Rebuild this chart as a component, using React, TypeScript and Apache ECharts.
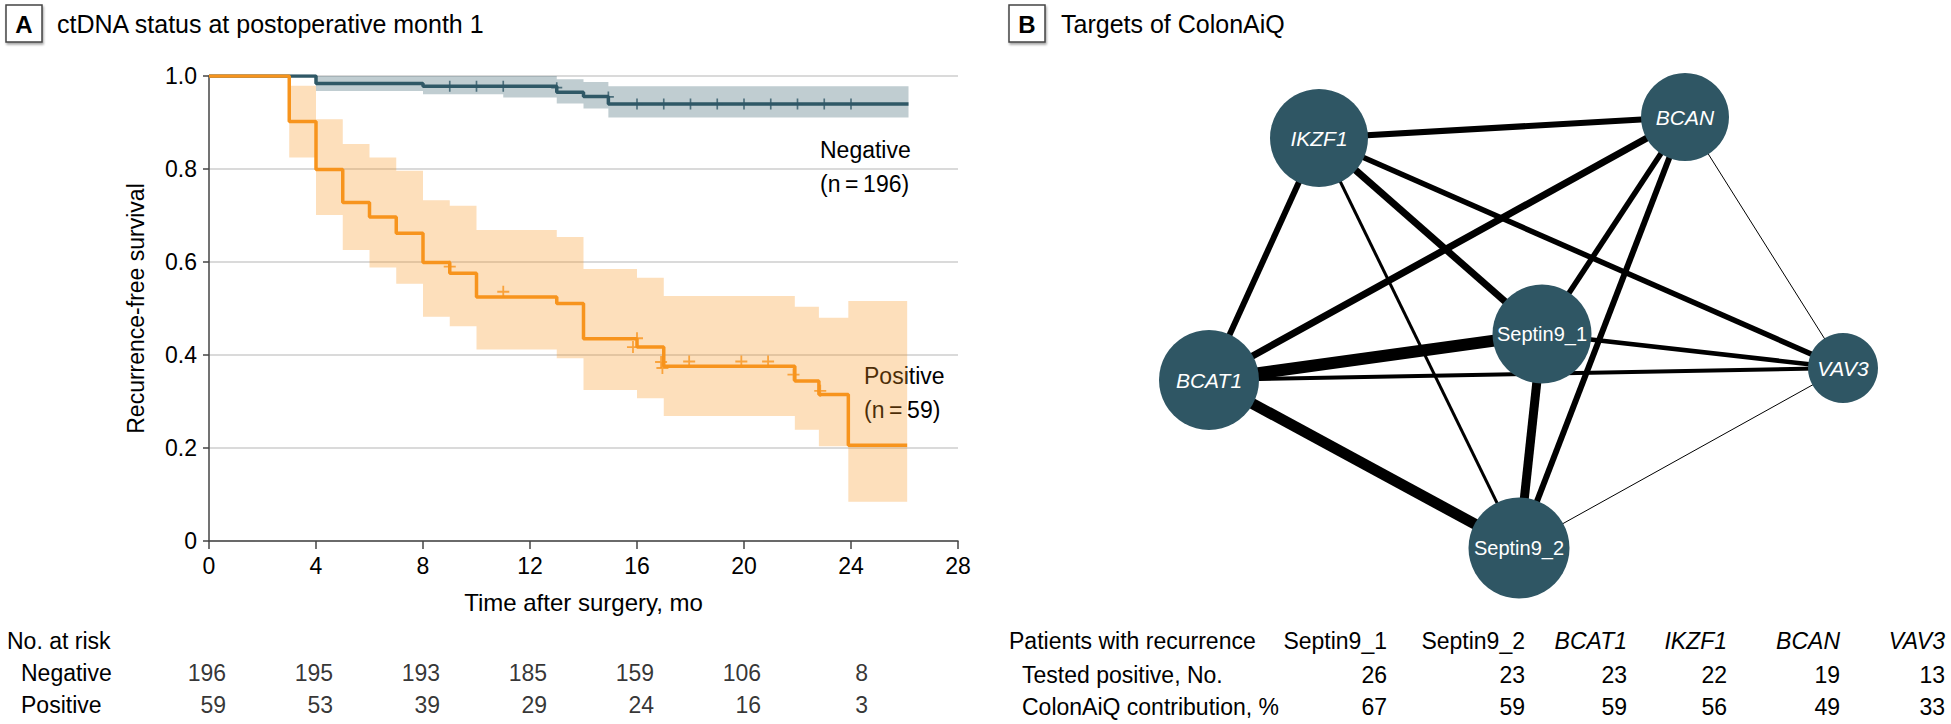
import React, { useEffect, useRef } from "react";
import * as echarts from "echarts";

const FONT = "'Liberation Sans', Arial, Helvetica, sans-serif";
const NAVY = "#2F5866";
const ORANGE = "#F7941D";
const NODE = "#2F5664";
const TXT = "#000000";

// ---------- Panel A: Kaplan-Meier data ----------
const negativeCurve: number[][] = [
  [0, 1], [4, 0.984], [8, 0.978], [13, 0.965], [14, 0.956], [14.93, 0.94], [26.15, 0.94],
];
// [start, end, lower, upper]
const negativeBand: number[][] = [
  [4, 8, 0.968, 1], [8, 11, 0.961, 1], [11, 13, 0.954, 1], [13, 14, 0.941, 0.993],
  [14, 14.93, 0.93, 0.987], [14.93, 26.15, 0.911, 0.978],
];
const negativeCensored: number[][] = [
  [9, 0.978], [10, 0.978], [11, 0.978], [13, 0.975], [14.93, 0.955],
  [16, 0.94], [17, 0.94], [18, 0.94], [19, 0.94], [20, 0.94], [21, 0.94], [22, 0.94], [23, 0.94], [24, 0.94],
];
const positiveCurve: number[][] = [
  [0, 1], [3, 0.902], [4, 0.799], [5, 0.728], [6, 0.697], [7, 0.662], [8, 0.599], [9, 0.576],
  [10, 0.525], [13, 0.511], [14, 0.435], [16, 0.417], [17, 0.376], [21.9, 0.344], [22.8, 0.315],
  [23.9, 0.206], [26.1, 0.206],
];
const positiveBand: number[][] = [
  [3, 4, 0.825, 0.979], [4, 5, 0.701, 0.907], [5, 6, 0.626, 0.854], [6, 7, 0.588, 0.825],
  [7, 8, 0.553, 0.796], [8, 9, 0.482, 0.733], [9, 10, 0.462, 0.721], [10, 13, 0.412, 0.669],
  [13, 14, 0.393, 0.654], [14, 16, 0.325, 0.585], [16, 17, 0.307, 0.566], [17, 21.9, 0.269, 0.527],
  [21.9, 22.8, 0.239, 0.504], [22.8, 23.9, 0.204, 0.48], [23.9, 26.1, 0.0845, 0.516],
];
const positiveCensored: number[][] = [
  [9, 0.59], [11, 0.536], [16, 0.436], [15.85, 0.417], [16.9, 0.385], [16.95, 0.372],
  [17.95, 0.386], [19.9, 0.386], [20.9, 0.386], [21.85, 0.358], [22.85, 0.323],
];

const riskTimes = [0, 4, 8, 12, 16, 20, 24];
const negativeAtRisk = [196, 195, 193, 185, 159, 106, 8];
const positiveAtRisk = [59, 53, 39, 29, 24, 16, 3];

// ---------- Panel B: network ----------
const geneNames = ["IKZF1", "BCAN", "BCAT1", "Septin9_1", "VAV3", "Septin9_2"];
const geneX = [169, 535, 59, 392, 693, 369];
const geneY = [78, 57, 320, 274, 308, 488];
const geneSize = [98, 88, 100, 99, 70, 101];
const edgeSource = ["BCAT1", "BCAT1", "Septin9_1", "IKZF1", "BCAT1", "IKZF1", "BCAN", "IKZF1", "BCAN", "IKZF1", "BCAT1", "Septin9_1", "IKZF1", "BCAN", "VAV3"];
const edgeTarget = ["Septin9_1", "Septin9_2", "Septin9_2", "BCAN", "BCAN", "Septin9_1", "Septin9_2", "BCAT1", "Septin9_1", "VAV3", "VAV3", "VAV3", "Septin9_2", "VAV3", "Septin9_2"];
const edgeWeight = [12, 11, 9, 6, 7, 7, 6, 6, 5.5, 5.5, 4, 4.5, 3, 1, 1];

// ---------- Panel B: table ----------
const tableTargets = ["Septin9_1", "Septin9_2", "BCAT1", "IKZF1", "BCAN", "VAV3"];
const testedPositive = [26, 23, 23, 22, 19, 13];
const contribution = [67, 59, 59, 56, 49, 33];
const tableColRight = [1387, 1525, 1627, 1727, 1840, 1945];

const PLUS = "path://M8.5,0h3v8.5h8.5v3h-8.5v8.5h-3v-8.5h-8.5v-3h8.5z";

function bandSeries(band: number[][], fill: string) {
  return {
    type: "custom",
    xAxisIndex: 0,
    yAxisIndex: 0,
    silent: true,
    z: 1,
    data: band,
    renderItem: (params: any, api: any) => {
      if (params.dataIndex !== 0) return { type: "group", children: [] };
      const pts: number[][] = [];
      band.forEach((b) => {
        pts.push(api.coord([b[0], b[3]]));
        pts.push(api.coord([b[1], b[3]]));
      });
      for (let i = band.length - 1; i >= 0; i--) {
        const b = band[i];
        pts.push(api.coord([b[1], b[2]]));
        pts.push(api.coord([b[0], b[2]]));
      }
      return { type: "polygon", shape: { points: pts }, style: { fill } };
    },
  };
}

function txt(text: string, x: number, y: number, extra: any = {}) {
  return {
    type: "text",
    x,
    y,
    silent: true,
    style: {
      text,
      fontFamily: FONT,
      fontSize: 23,
      fill: TXT,
      textAlign: "left",
      textVerticalAlign: "middle",
      ...extra,
    },
  };
}

export default function App() {
  const ref = useRef<HTMLDivElement>(null);
  useEffect(() => {
    document.body.style.margin = "0";
    if (!ref.current) return;
    const chart = echarts.init(ref.current, null, { renderer: "svg" });

    const graphics: any[] = [];
    // Panel boxes and titles
    graphics.push({
      type: "rect", shape: { x: 6, y: 5, width: 36, height: 37 }, silent: true,
      style: { fill: "#fff", stroke: "#444", lineWidth: 1.5, shadowColor: "rgba(0,0,0,0.35)", shadowOffsetX: 1, shadowOffsetY: 2, shadowBlur: 2 },
    });
    graphics.push(txt("A", 24, 24, { textAlign: "center", fontWeight: "bold", fontSize: 24 }));
    graphics.push(txt("ctDNA status at postoperative month 1", 57, 24, { fontSize: 25 }));
    graphics.push({
      type: "rect", shape: { x: 1009, y: 5, width: 36, height: 37 }, silent: true,
      style: { fill: "#fff", stroke: "#444", lineWidth: 1.5, shadowColor: "rgba(0,0,0,0.35)", shadowOffsetX: 1, shadowOffsetY: 2, shadowBlur: 2 },
    });
    graphics.push(txt("B", 1027, 24, { textAlign: "center", fontWeight: "bold", fontSize: 24 }));
    graphics.push(txt("Targets of ColonAiQ", 1061, 24, { fontSize: 25 }));

    // Curve labels
    graphics.push(txt("Negative", 820, 150));
    graphics.push(txt("(n\u2009=\u2009196)", 820, 184));
    graphics.push(txt("Positive", 864, 376));
    graphics.push(txt("(n\u2009=\u200959)", 864, 410));

    // Risk table row labels
    graphics.push(txt("No. at risk", 7, 641));
    graphics.push(txt("Negative", 21, 673));
    graphics.push(txt("Positive", 21, 705));

    // Right table
    graphics.push(txt("Patients with recurrence", 1009, 641));
    graphics.push(txt("Tested positive, No.", 1022, 675));
    graphics.push(txt("ColonAiQ contribution, %", 1022, 707));
    tableTargets.forEach((name, i) => {
      const italic = name.indexOf("_") < 0;
      graphics.push(txt(name, tableColRight[i], 641, { textAlign: "right", fontStyle: italic ? "italic" : "normal" }));
      graphics.push(txt(String(testedPositive[i]), tableColRight[i], 675, { textAlign: "right" }));
      graphics.push(txt(String(contribution[i]), tableColRight[i], 707, { textAlign: "right" }));
    });

    const riskData = [
      ...riskTimes.map((t, i) => [t, 0, negativeAtRisk[i]]),
      ...riskTimes.map((t, i) => [t, 1, positiveAtRisk[i]]),
    ];

    const nodes = geneNames.map((name, i) => ({
      name,
      value: [geneX[i], geneY[i]],
      symbolSize: geneSize[i],
      label: {
        show: true,
        position: "inside",
        color: "#ffffff",
        fontFamily: FONT,
        fontSize: name.indexOf("_") >= 0 ? 20 : 21,
        fontStyle: name.indexOf("_") >= 0 ? "normal" : "italic",
      },
    }));
    const links = edgeSource.map((s, i) => ({
      source: s,
      target: edgeTarget[i],
      lineStyle: { width: edgeWeight[i], color: "#000000", opacity: 1, curveness: 0 },
    }));

    const option: any = {
      animation: false,
      textStyle: { fontFamily: FONT },
      grid: [
        { left: 209, top: 76, width: 749, height: 465, containLabel: false, outerBoundsMode: "none" },
        { left: 209, top: 673, width: 749, height: 32, containLabel: false, outerBoundsMode: "none" },
        { left: 1150, top: 60, width: 750, height: 540, containLabel: false, outerBoundsMode: "none" },
      ],
      xAxis: [
        {
          gridIndex: 0, type: "value", min: 0, max: 28, interval: 4,
          axisLine: { show: true, lineStyle: { color: "#444", width: 1.5 } },
          axisTick: { show: true, length: 8, lineStyle: { color: "#444", width: 1.5 } },
          axisLabel: { fontSize: 23, color: TXT, margin: 13, fontFamily: FONT },
          splitLine: { show: false },
          name: "Time after surgery, mo", nameLocation: "middle", nameGap: 49,
          nameTextStyle: { fontSize: 24, color: TXT, fontFamily: FONT },
          nameMoveOverlap: false,
        },
        { gridIndex: 1, type: "value", min: 0, max: 28, show: false },
        { gridIndex: 2, type: "value", min: 0, max: 750, show: false },
      ],
      yAxis: [
        {
          gridIndex: 0, type: "value", min: 0, max: 1, interval: 0.2,
          axisLine: { show: true, lineStyle: { color: "#444", width: 1.5 } },
          axisTick: { show: true, length: 6, lineStyle: { color: "#444", width: 1.5 } },
          axisLabel: {
            fontSize: 23, color: TXT, margin: 12, fontFamily: FONT,
            formatter: (v: number) => (v === 0 ? "0" : v.toFixed(1)),
          },
          splitLine: { show: true, lineStyle: { color: "#DADADA", width: 2 } },
          name: "Recurrence-free survival", nameLocation: "middle", nameGap: 62,
          nameTextStyle: { fontSize: 23, color: TXT, fontFamily: FONT },
          nameMoveOverlap: false,
        },
        { gridIndex: 1, type: "value", min: 0, max: 1, inverse: true, show: false },
        { gridIndex: 2, type: "value", min: 0, max: 540, inverse: true, show: false },
      ],
      series: [
        bandSeries(negativeBand, "rgba(47,88,102,0.3)"),
        bandSeries(positiveBand, "rgba(247,148,29,0.3)"),
        {
          type: "line", xAxisIndex: 0, yAxisIndex: 0, step: "end", data: negativeCurve,
          symbol: "none", silent: true, z: 3,
          lineStyle: { color: NAVY, width: 3.5 },
        },
        {
          type: "line", xAxisIndex: 0, yAxisIndex: 0, step: "end", data: positiveCurve,
          symbol: "none", silent: true, z: 4,
          lineStyle: { color: ORANGE, width: 3.5 },
        },
        {
          type: "scatter", xAxisIndex: 0, yAxisIndex: 0, data: negativeCensored, silent: true, z: 5,
          symbol: PLUS, symbolSize: 11, itemStyle: { color: NAVY },
        },
        {
          type: "scatter", xAxisIndex: 0, yAxisIndex: 0, data: positiveCensored, silent: true, z: 5,
          symbol: PLUS, symbolSize: 12, itemStyle: { color: ORANGE },
        },
        {
          type: "scatter", xAxisIndex: 1, yAxisIndex: 1, data: riskData, silent: true,
          symbolSize: 1, itemStyle: { color: "rgba(0,0,0,0)" },
          label: {
            show: true, position: "inside", align: "right", verticalAlign: "middle", offset: [17, 0],
            formatter: (p: any) => String(p.value[2]), fontSize: 23, color: TXT, fontFamily: FONT,
          },
        },
        {
          type: "graph", coordinateSystem: "cartesian2d", xAxisIndex: 2, yAxisIndex: 2,
          layout: "none", silent: true, roam: false, z: 2,
          symbol: "circle",
          itemStyle: { color: NODE, opacity: 1 },
          data: nodes,
          links,
          lineStyle: { color: "#000", opacity: 1 },
          emphasis: { disabled: true },
        },
      ],
      graphic: graphics,
    };
    chart.setOption(option);
    return () => chart.dispose();
  }, []);
  return <div ref={ref} style={{ width: 1951, height: 724 }} />;
}
